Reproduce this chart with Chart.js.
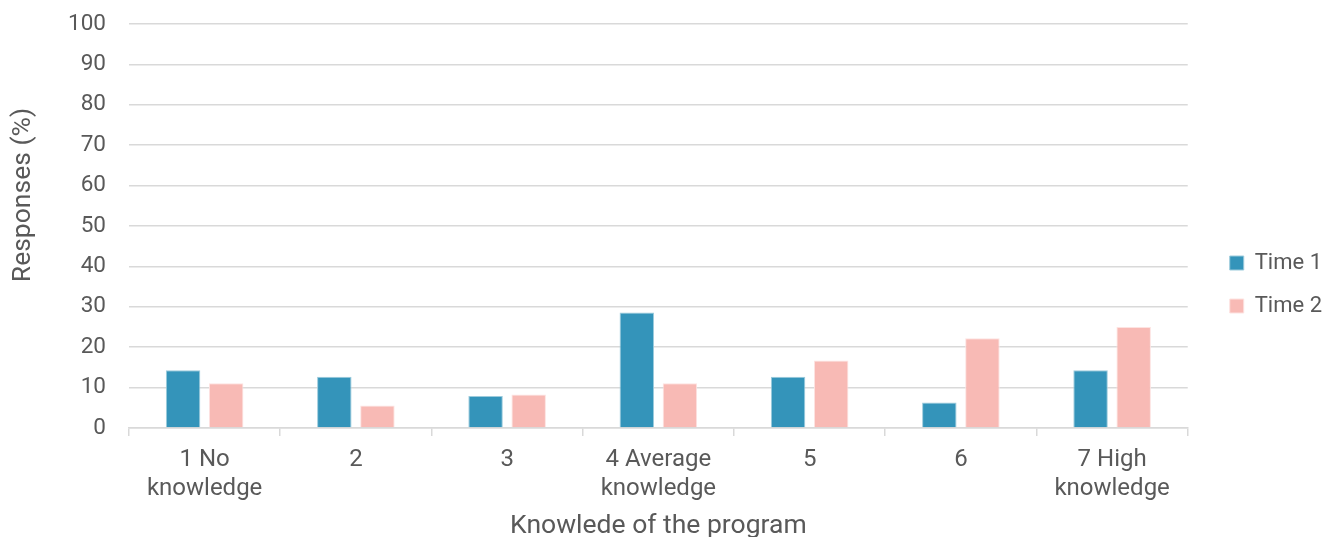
<!DOCTYPE html>
<html>
<head>
<meta charset="utf-8">
<script src="https://cdn.jsdelivr.net/npm/chart.js@4/dist/chart.umd.min.js"></script>
<style>
  html, body { margin: 0; padding: 0; background: #ffffff; }
  #wrap { width: 1323px; height: 537px; }
</style>
</head>
<body>
<div id="wrap"><canvas id="chart" width="1323" height="537"></canvas></div>
<script>
// Knowledge levels on the x axis (multi-line labels)
const categories = [
  ['1 No', 'knowledge'],
  '2',
  '3',
  ['4 Average', 'knowledge'],
  '5',
  '6',
  ['7 High', 'knowledge']
];

// Share of responses (%) at each survey wave
const time1 = [14.3, 12.7, 7.9, 28.6, 12.7, 6.3, 14.3];
const time2 = [11.1, 5.6, 8.3, 11.1, 16.7, 22.2, 25.0];

const seriesNames = ['Time 1', 'Time 2'];
const yTicks = [0, 10, 20, 30, 40, 50, 60, 70, 80, 90, 100];
const yTitle = 'Responses (%)';
const xTitle = 'Knowlede of the program';

const textColor = '#595959';
const gridColor = '#d9d9d9';
const fontFamily = 'Roboto, "Liberation Sans", sans-serif';

// Draws the rotated y-axis title to the left of the tick labels,
// and moves the legend block a little to the right.
const sideTitle = {
  id: 'sideTitle',
  afterLayout(chart) {
    const lg = chart.legend;
    if (lg) {
      lg.top += 4; lg.bottom += 4;
      lg.left += 21; lg.right += 21;
    }
  },
  afterDraw(chart) {
    const ctx = chart.ctx;
    ctx.save();
    ctx.translate(23, 195);
    ctx.rotate(-Math.PI / 2);
    ctx.fillStyle = textColor;
    ctx.font = '26.5px ' + fontFamily;
    ctx.textAlign = 'center';
    ctx.textBaseline = 'middle';
    ctx.fillText(yTitle, 0, 0);
    ctx.restore();
  }
};

new Chart(document.getElementById('chart'), {
  type: 'bar',
  data: {
    labels: categories,
    datasets: [
      {
        label: seriesNames[0],
        data: time1,
        backgroundColor: '#3494ba',
        borderColor: '#9ccbdc',
        borderWidth: 1,
        categoryPercentage: 0.57,
        barPercentage: 0.8
      },
      {
        label: seriesNames[1],
        data: time2,
        backgroundColor: '#f8bab5',
        borderColor: '#fde3e1',
        borderWidth: 1,
        categoryPercentage: 0.57,
        barPercentage: 0.8
      }
    ]
  },
  plugins: [sideTitle],
  options: {
    responsive: false,
    animation: false,
    devicePixelRatio: 1,
    layout: { padding: { top: 24, right: 12, bottom: 0, left: 0 } },
    plugins: {
      tooltip: { enabled: false },
      legend: {
        position: 'right',
        align: 'center',
        labels: {
          color: textColor,
          font: { family: fontFamily, size: 22 },
          boxWidth: 14,
          boxHeight: 14,
          padding: 21
        }
      }
    },
    scales: {
      x: {
        grid: {
          display: true,
          offset: true,
          drawOnChartArea: false,
          drawTicks: true,
          tickLength: 8,
          color: gridColor,
          lineWidth: 1.5
        },
        border: { display: true, color: gridColor, width: 1.5 },
        ticks: {
          color: textColor,
          font: { family: fontFamily, size: 24, lineHeight: 1.2 },
          padding: 10,
          maxRotation: 0,
          autoSkip: false
        },
        title: {
          display: true,
          text: xTitle,
          color: textColor,
          font: { family: fontFamily, size: 26.5 },
          padding: { top: 4, bottom: -5 }
        },
        afterFit(scale) { scale.height = 109; }
      },
      y: {
        min: 0,
        max: 100,
        afterBuildTicks(scale) { scale.ticks = yTicks.map(v => ({ value: v })); },
        grid: {
          color: gridColor,
          lineWidth: 1.5,
          drawTicks: false
        },
        border: { display: false },
        ticks: {
          color: textColor,
          font: { family: fontFamily, size: 22.5 },
          padding: 23
        },
        title: { display: false },
        afterFit(scale) {
          scale.width = 129;
          scale.paddingTop = 0;
          scale.paddingBottom = 0;
        }
      }
    }
  }
});
</script>
</body>
</html>
